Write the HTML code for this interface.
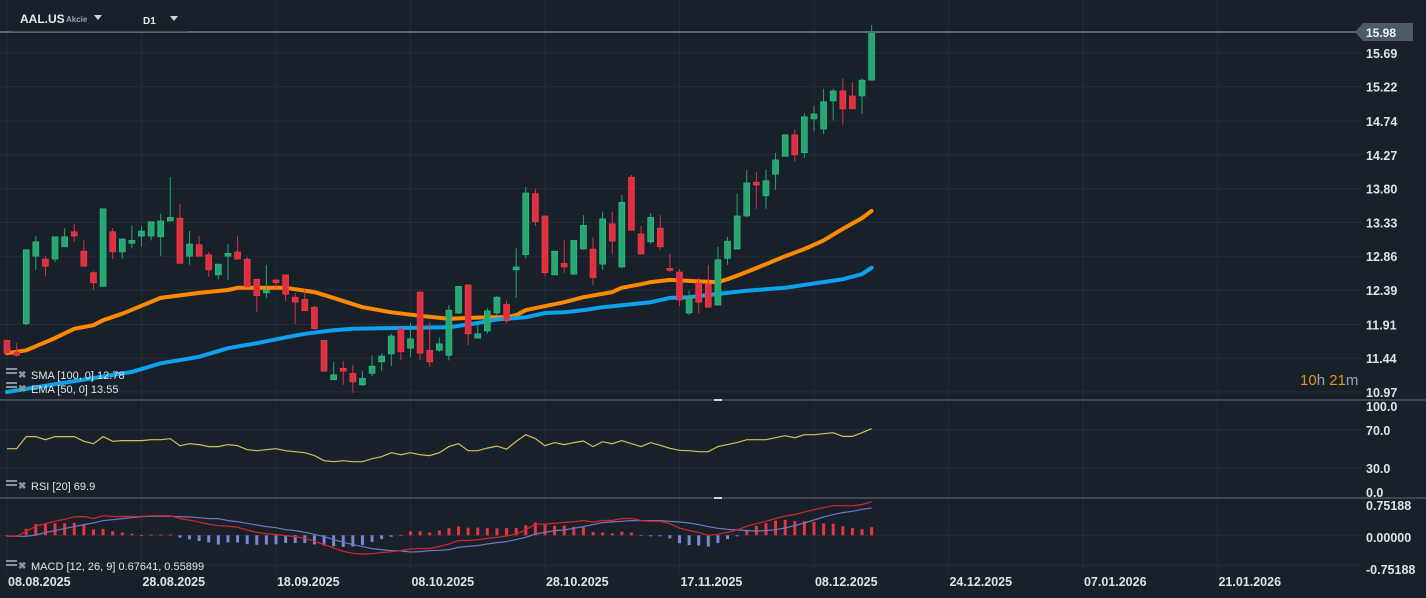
<!DOCTYPE html>
<html><head><meta charset="utf-8"><style>
html,body{margin:0;padding:0;background:#18212a;width:1426px;height:598px;overflow:hidden}
svg{display:block;font-family:"Liberation Sans",sans-serif}
</style></head><body>
<svg id="chart" width="1426" height="598" viewBox="0 0 1426 598">
<rect width="1426" height="598" fill="#18212a"/>
<g id="grid"></g>
<g id="ma"></g>
<g id="candles"></g>
<g id="rsi"></g>
<g id="macd"></g>
<g id="axes"></g>
<line x1="0" y1="32" x2="1358" y2="32" stroke="#5a6873" stroke-width="2"/>
<rect x="10" y="0" width="178" height="31" fill="#18212a"/>
<line x1="10" y1="31" x2="188" y2="31" stroke="#263039"/>
<text x="20" y="23" fill="#e6e9ec" font-size="12" font-weight="bold">AAL.US</text>
<text x="66" y="22" fill="#9aa4ad" font-size="8" font-weight="bold">Akcie</text>
<path d="M94 15 L102 15 L98 20 Z" fill="#cfd4d8"/>
<text x="143" y="24" fill="#e6e9ec" font-size="10" font-weight="bold">D1</text>
<path d="M170 16 L178 16 L174 21 Z" fill="#cfd4d8"/>
<path d="M1355 32 L1363 23 L1413 23 L1413 41 L1363 41 Z" fill="#4c5a66"/>
<text x="1366" y="37" fill="#f2f4f6" font-size="12" font-weight="bold">15.98</text>
<text x="1300" y="385" font-size="15"><tspan fill="#e8901a">10</tspan><tspan fill="#9aa4ad">h </tspan><tspan fill="#e8901a">21</tspan><tspan fill="#9aa4ad">m</tspan></text>
<g><rect x="6" y="368" width="11" height="2" fill="#8a949c"/><rect x="6" y="372" width="11" height="2" fill="#8a949c"/><text x="18" y="378" fill="#8a949c" font-size="10" font-weight="bold">✖</text><text x="31" y="379" fill="#e0e4e8" font-size="11">SMA [100, 0] 12.78</text></g>
<g><rect x="6" y="382" width="11" height="2" fill="#8a949c"/><rect x="6" y="386" width="11" height="2" fill="#8a949c"/><text x="18" y="392" fill="#8a949c" font-size="10" font-weight="bold">✖</text><text x="31" y="393" fill="#e0e4e8" font-size="11">EMA [50, 0] 13.55</text></g>
<g><rect x="6" y="480" width="11" height="2" fill="#8a949c"/><rect x="6" y="484" width="11" height="2" fill="#8a949c"/><text x="18" y="489" fill="#8a949c" font-size="10" font-weight="bold">✖</text><text x="31" y="490" fill="#e0e4e8" font-size="11">RSI [20] 69.9</text></g>
<g><rect x="6" y="560" width="11" height="2" fill="#8a949c"/><rect x="6" y="564" width="11" height="2" fill="#8a949c"/><text x="18" y="569" fill="#8a949c" font-size="10" font-weight="bold">✖</text><text x="31" y="570" fill="#e0e4e8" font-size="11">MACD [12, 26, 9] 0.67641, 0.55899</text></g>
<rect x="714" y="399" width="8" height="2" fill="#d0d4d8"/>
<rect x="714" y="497" width="8" height="2" fill="#d0d4d8"/>
</svg>
<script>
const opens=[11.69,11.53,11.92,12.86,12.82,12.82,12.99,13.20,12.93,12.63,12.44,13.20,12.92,13.04,13.14,13.14,13.13,13.35,13.39,12.86,13.02,12.88,12.60,12.86,12.92,12.82,12.54,12.35,12.53,12.60,12.29,12.26,12.15,11.69,11.14,11.30,11.23,11.07,11.23,11.39,11.50,11.85,11.58,12.36,11.55,11.55,11.48,12.07,12.46,11.72,11.82,12.07,12.19,12.67,12.88,13.73,13.42,12.60,12.76,12.61,12.96,12.96,12.75,13.31,12.71,13.96,13.17,13.06,13.25,12.69,12.64,12.07,12.49,12.47,12.18,12.83,12.96,13.42,13.89,13.70,14.00,14.25,14.55,14.30,14.77,14.63,15.02,15.16,15.09,15.09,15.31];
const highs=[11.69,11.65,12.95,13.14,12.86,13.13,13.25,13.31,13.08,12.65,13.52,13.25,13.10,13.29,13.28,13.34,13.45,13.96,13.59,13.21,13.14,12.92,12.75,13.03,13.14,12.85,12.54,12.74,12.53,12.60,12.35,12.40,12.17,11.69,11.39,11.40,11.35,11.26,11.48,11.51,11.78,11.85,11.93,12.38,11.94,11.73,12.18,12.44,12.47,11.93,12.14,12.31,12.24,12.97,13.82,13.80,13.42,12.93,13.08,13.08,13.43,13.13,13.48,13.48,13.71,13.99,13.28,13.46,13.43,12.89,12.68,12.38,12.56,12.74,12.99,13.13,13.73,14.06,14.03,14.06,14.30,14.55,14.62,14.85,14.95,15.19,15.19,15.33,15.28,15.33,16.08];
const lows=[11.50,11.46,11.90,12.67,12.58,12.78,12.99,13.06,12.72,12.39,12.44,12.82,12.82,12.97,12.99,13.08,12.86,13.35,12.76,12.74,12.86,12.57,12.54,12.53,12.82,12.43,12.08,12.28,12.42,12.24,11.92,12.10,11.85,11.26,11.14,11.07,10.96,11.05,11.19,11.26,11.33,11.41,11.46,11.41,11.32,11.53,11.41,12.06,11.62,11.72,11.78,12.03,11.93,12.28,12.83,13.28,12.58,12.60,12.63,12.60,12.95,12.46,12.67,12.89,12.69,13.22,12.89,13.03,12.95,12.64,12.17,12.04,12.06,12.15,12.18,12.74,12.96,13.40,13.52,13.52,13.78,14.25,14.18,14.23,14.60,14.56,14.75,14.69,14.91,14.84,15.31];
const closes=[11.51,11.48,12.95,13.06,12.72,13.13,13.13,13.14,12.72,12.49,13.52,12.92,13.10,13.08,13.21,13.34,13.35,13.40,12.76,13.03,12.86,12.67,12.75,12.90,12.82,12.43,12.31,12.39,12.49,12.33,12.22,12.10,11.85,11.26,11.21,11.26,11.11,11.16,11.33,11.47,11.75,11.53,11.71,11.51,11.39,11.64,12.11,12.44,11.78,11.78,12.10,12.29,11.96,12.71,13.74,13.34,12.63,12.93,12.71,13.08,13.29,12.56,13.38,13.07,13.61,13.22,12.89,13.40,12.99,12.67,12.25,12.29,12.22,12.15,12.81,13.07,13.42,13.88,13.85,13.91,14.20,14.55,14.27,14.80,14.84,15.01,15.16,14.91,14.91,15.31,15.98];
const emaIdx=[1,3,6,8,10,11,13,15,17,21,24,25,30,33,35,38,41,44,47,49,51,53,54,55,59,61,64,65,67,68,70,73,75,76,78,80,82,84,86,88,90,91];
const emaVals=[11.51,11.55,11.72,11.85,11.90,11.97,12.06,12.17,12.28,12.35,12.39,12.42,12.42,12.36,12.28,12.15,12.08,12.03,11.99,12.00,12.01,12.01,12.04,12.11,12.22,12.29,12.36,12.42,12.47,12.50,12.53,12.51,12.50,12.54,12.64,12.75,12.86,12.96,13.08,13.24,13.39,13.49];
const smaIdx=[1,7,14,17,21,24,27,30,32,35,37,41,47,50,52,55,57,59,61,63,66,68,70,72,74,76,78,80,82,84,86,88,90,91];
const smaVals=[10.97,11.10,11.25,11.37,11.46,11.58,11.65,11.73,11.78,11.83,11.85,11.86,11.87,11.93,11.98,12.01,12.07,12.08,12.11,12.15,12.19,12.22,12.28,12.29,12.32,12.35,12.38,12.40,12.42,12.46,12.50,12.54,12.61,12.70];
const rsiVals=[50.3,50.3,63.0,63.0,59.8,63.0,63.0,63.0,58.1,55.6,63.0,58.1,58.8,58.8,58.8,59.8,59.8,60.8,53.5,55.6,54.6,52.5,52.5,54.6,53.5,49.3,48.2,49.3,50.3,48.2,47.2,46.1,43.0,37.7,36.6,37.7,36.6,36.6,39.8,41.9,46.1,44.0,46.1,44.0,43.0,46.1,52.5,55.6,48.2,48.2,51.0,53.1,49.8,58.1,65.1,60.8,53.5,56.7,54.6,56.7,58.4,52.5,57.7,55.6,58.8,55.6,52.5,56.7,53.9,50.7,48.6,48.2,47.2,47.2,52.5,54.6,56.7,59.8,59.8,59.8,61.9,64.0,61.9,65.1,65.1,66.1,67.2,63.3,63.3,67.2,71.4];
const macdVals=[-0.025,-0.025,0.10,0.225,0.29,0.35,0.40,0.46,0.47,0.42,0.49,0.47,0.47,0.47,0.475,0.49,0.49,0.49,0.42,0.38,0.33,0.28,0.24,0.23,0.20,0.13,0.075,0.04,0.017,-0.008,-0.033,-0.075,-0.15,-0.23,-0.32,-0.40,-0.45,-0.47,-0.46,-0.43,-0.41,-0.38,-0.34,-0.33,-0.33,-0.28,-0.22,-0.13,-0.13,-0.11,-0.08,-0.05,-0.017,0.033,0.14,0.28,0.28,0.30,0.32,0.34,0.37,0.33,0.37,0.37,0.42,0.42,0.37,0.35,0.35,0.29,0.18,0.12,0.07,0,0.025,0.075,0.13,0.225,0.29,0.35,0.42,0.48,0.52,0.58,0.64,0.69,0.74,0.74,0.74,0.77,0.84];
const signalVals=[-0.025,-0.025,-0.025,0.008,0.067,0.117,0.167,0.217,0.267,0.308,0.367,0.39,0.417,0.44,0.467,0.475,0.475,0.475,0.467,0.458,0.44,0.417,0.417,0.367,0.34,0.30,0.258,0.217,0.19,0.14,0.117,0.075,0.025,-0.033,-0.108,-0.175,-0.233,-0.283,-0.333,-0.358,-0.383,-0.39,-0.417,-0.408,-0.383,-0.375,-0.358,-0.30,-0.275,-0.258,-0.217,-0.183,-0.158,-0.108,-0.05,0.033,0.075,0.117,0.133,0.175,0.217,0.267,0.317,0.333,0.35,0.367,0.367,0.367,0.367,0.35,0.333,0.308,0.267,0.217,0.175,0.15,0.133,0.117,0.108,0.117,0.14,0.183,0.242,0.308,0.383,0.458,0.517,0.567,0.60,0.65,0.683];
const priceTicks=["15.69","15.22","14.74","14.27","13.80","13.33","12.86","12.39","11.91","11.44","10.97"];
const rsiTicks=["100.0","70.0","30.0","0.0"];
const macdTicks=["0.75188","0.00000","-0.75188"];
const dateLabels=["08.08.2025","28.08.2025","18.09.2025","08.10.2025","28.10.2025","17.11.2025","08.12.2025","24.12.2025","07.01.2026","21.01.2026"];

const NS="http://www.w3.org/2000/svg";
function mk(tag,attrs,parent){const e=document.createElementNS(NS,tag);for(const k in attrs)e.setAttribute(k,attrs[k]);parent.appendChild(e);return e;}
const step=9.607;
const xOf=i=>7+i*step;
const yP=p=>32+(15.98-p)*71.86;
const yR=v=>496.5-v*0.95;
const yM=v=>535.3-v*40;
const G=document.getElementById('grid'),A=document.getElementById('axes');
priceTicks.forEach(t=>{const y=yP(parseFloat(t));
 const l=mk('line',{x1:0,x2:1362,y1:y,y2:y,stroke:'#242e37'},G);
 
 
 const tx=mk('text',{x:1366,y:y+5,fill:'#dfe3e6','font-size':12.5,'font-weight':'bold'},A);tx.textContent=t;
 
 });
rsiTicks.forEach(t=>{const v=parseFloat(t);const y=yR(v);
 if(v>0&&v<100){const l=mk('line',{x1:0,x2:1362,y1:y,y2:y,stroke:'#242e37'},G);
 
 }
 const ty=v==100?411:(v==0?497:y+5);
 const tx=mk('text',{x:1366,y:ty,fill:'#dfe3e6','font-size':12.5,'font-weight':'bold'},A);tx.textContent=t;
 
 });
macdTicks.forEach(t=>{const v=parseFloat(t);const y=yM(v);
 if(v<=0){const l=mk('line',{x1:0,x2:1362,y1:y,y2:y,stroke:'#242e37'},G);
 
 }
 const ty=v>0?510:(v==0?542:574);
 const tx=mk('text',{x:1366,y:ty,fill:'#dfe3e6','font-size':12.5,'font-weight':'bold'},A);tx.textContent=t;
 
 });
dateLabels.forEach((d,k)=>{const x=xOf(k*14);
 const l=mk('line',{x1:x,x2:x,y1:0,y2:572,stroke:'#222c35'},G);
 
 
 const tx=mk('text',{x:x+1,y:586,fill:'#dfe3e6','font-size':12.5,'font-weight':'bold'},A);tx.textContent=d;
 
 });
[[400,'rsi-separator'],[498,'macd-separator']].forEach(s=>{const l=mk('line',{x1:0,x2:1426,y1:s[0],y2:s[0],stroke:'#4a5662','stroke-width':1.5},A);
 
 });
const MA=document.getElementById('ma');
function maLine(idx,vals,color,name){const pts=idx.map((i,k)=>xOf(i-1).toFixed(1)+','+yP(vals[k]).toFixed(1)).join(' ');
 const p=mk('polyline',{points:pts,fill:'none',stroke:color,'stroke-width':4,'stroke-linejoin':'round','stroke-linecap':'round'},MA);
 
 }
maLine(emaIdx,emaVals,'#ff8a00','ema-50-line');
maLine(smaIdx,smaVals,'#0ea2ee','sma-100-line');
const C=document.getElementById('candles');
opens.forEach((o,i)=>{const c=closes[i],x=xOf(i),up=c>=o,col=up?'#26a671':'#e0303f';
 const g=mk('g',{},C);
 
 
 mk('line',{x1:x,x2:x,y1:yP(highs[i]),y2:yP(lows[i]),stroke:col,'stroke-width':1},g);
 const yt=yP(Math.max(o,c)),yb=yP(Math.min(o,c));
 mk('rect',{x:x-3,y:yt,width:6,height:Math.max(yb-yt,2),fill:col,stroke:up?'#35c488':'#f04050','stroke-width':0.6},g);});
const R=document.getElementById('rsi');
const rp=mk('polyline',{points:rsiVals.map((v,i)=>xOf(i).toFixed(1)+','+yR(v).toFixed(1)).join(' '),fill:'none',stroke:'#cfc35a','stroke-width':1.2},R);


const M=document.getElementById('macd');
macdVals.forEach((v,i)=>{const h=(v-signalVals[i])*1.3;const y0=yM(0),y1=yM(h);
 const b=mk('rect',{x:xOf(i)-1.5,y:Math.min(y0,y1),width:3,height:Math.max(Math.abs(y1-y0),1),fill:h>=0?'#e8343a':'#7a86d8'},M);
 
 });
const sp=mk('polyline',{points:signalVals.map((v,i)=>xOf(i).toFixed(1)+','+yM(v).toFixed(1)).join(' '),fill:'none',stroke:'#6c78c4','stroke-width':1.2},M);


const mp=mk('polyline',{points:macdVals.map((v,i)=>xOf(i).toFixed(1)+','+yM(v).toFixed(1)).join(' '),fill:'none',stroke:'#d6262c','stroke-width':1.2},M);


</script>
</body></html>
